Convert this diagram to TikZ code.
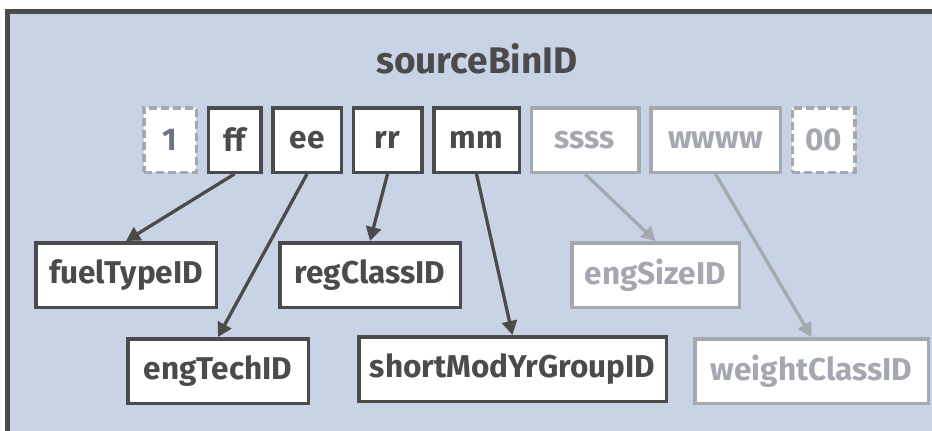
\documentclass[tikz,border=0pt]{standalone}
\usepackage{fontspec}
\setmainfont{Fira Sans}
\usetikzlibrary{positioning}
\usetikzlibrary{arrows.meta}
\definecolor{framegray}{HTML}{4B4B4B}
\definecolor{panelblue}{HTML}{C8D3E6}
\definecolor{palegray}{HTML}{A5A9AF}
\definecolor{slategray}{HTML}{6B7585}
\begin{document}
\begin{tikzpicture}[x=1pt,y=-1pt,node distance=8.5pt,
      field/.style={rectangle,draw=framegray,fill=white,line width=3.5pt,
        text=framegray,font=\fontsize{31.5}{34}\bfseries,minimum height=64.5pt},
      palefield/.style={field,draw=palegray,text=palegray},
      spare/.style={field,draw=palegray,dash pattern=on 8pt off 4pt},
      link/.style={draw=framegray,line width=3.3pt,-{Triangle[length=14pt,width=15pt]}},
      palelink/.style={link,draw=palegray}]
\useasboundingbox (0,0) rectangle (932,431);
\clip (0,0) rectangle (932,431);
\draw[framegray,line width=5pt,fill=panelblue] (7.5,11.5) rectangle (950,450);
\node (title) at (477,59) [text=framegray,font=\fontsize{37}{40}\bfseries] {sourceBinID};
\node (lead) at (170,140) [spare,text=slategray,minimum width=52.5pt] {1};
\node (ff) [field,minimum width=52.5pt,right=of lead] {ff};
\node (ee) [field,minimum width=68.5pt,right=of ff] {ee};
\node (rr) [field,minimum width=68.5pt,right=of ee] {rr};
\node (mm) [field,minimum width=85.5pt,right=of rr] {mm};
\node (ssss) [palefield,minimum width=107.5pt,right=of mm] {ssss};
\node (wwww) [palefield,minimum width=129.5pt,right=of ssss] {wwww};
\node (tail) [spare,text=palegray,minimum width=62.5pt,right=of wwww] {00};
\node (fuel) at (126,275) [field,minimum width=180.5pt] {fuelTypeID};
\node (reg) at (370,275) [field,minimum width=180.5pt] {regClassID};
\node (size) at (655.5,275) [palefield,minimum width=167.5pt] {engSizeID};
\node (tech) at (218,371) [field,minimum width=180.5pt] {engTechID};
\node (modyr) at (512.5,369) [field,minimum width=307.5pt] {shortModYrGroupID};
\node (weight) at (811.5,371) [palefield,minimum width=233.5pt] {weightClassID};
\draw[link] (ff.south) -- (fuel.north);
\draw[link] (ee.south) -- (tech.north);
\draw[link] (rr.south) -- (reg.north);
\draw[link] (mm.south) -- (modyr.north);
\draw[palelink] (ssss.south) -- (size.north);
\draw[palelink] (wwww.south) -- (weight.north);
\end{tikzpicture}
\end{document}
